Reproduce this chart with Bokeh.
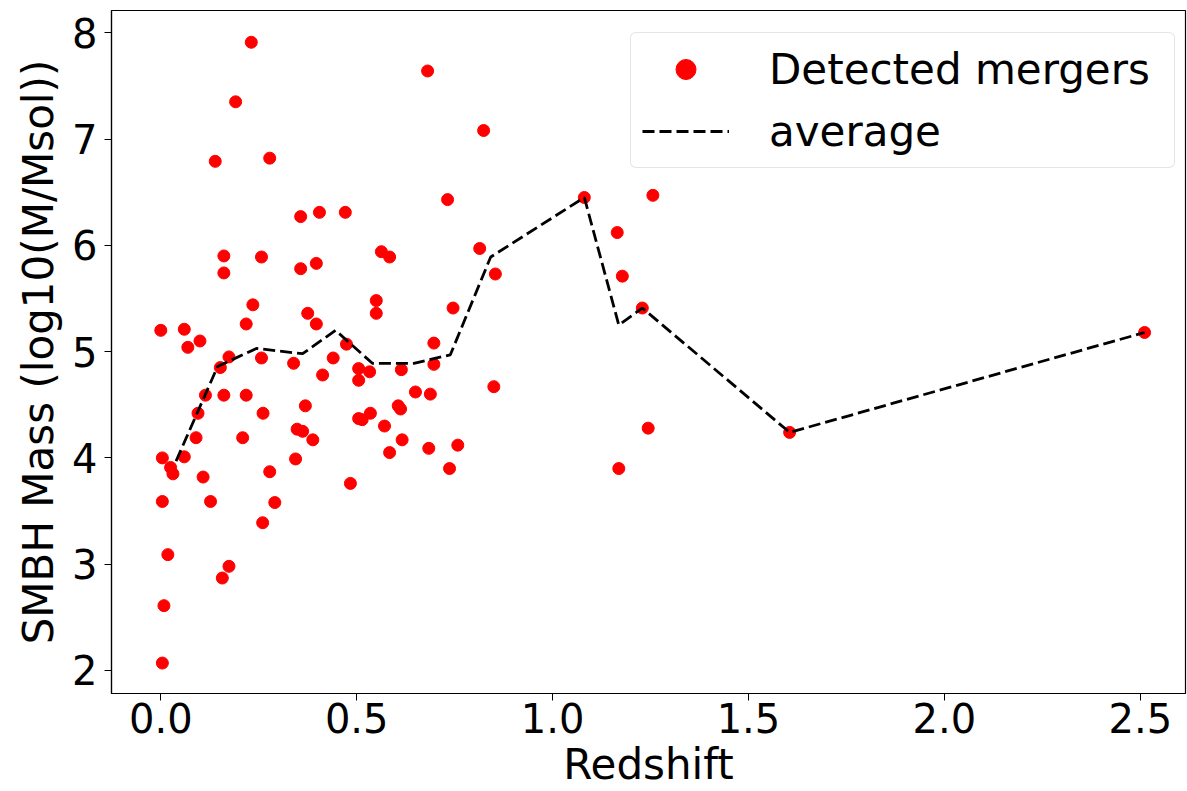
from bokeh.plotting import figure
from bokeh.models import Range1d, FixedTicker, Legend, LegendItem, ColumnDataSource
from bokeh.embed import file_html
from bokeh.resources import INLINE

# Detected mergers: redshift and SMBH mass (log10 M/Msol)
redshift = [
    0.231, 0.191, 0.139, 0.278, 0.357, 0.405, 0.471, 0.161, 0.257, 0.161,
    0.357, 0.397, 0.563, 0.584, 0.550, 0.550, 0.235, 0.218, 0.375, 0.397,
    0.000, 0.060, 0.100, 0.069, 0.474, 0.174, 0.152, 0.257, 0.339, 0.440,
    0.413, 0.505, 0.533, 0.505, 0.614, 0.114, 0.161, 0.218, 0.369, 0.095,
    0.261, 0.606, 0.612, 0.505, 0.514, 0.535, 0.348, 0.362, 0.388, 0.571,
    0.616, 0.584, 0.090, 0.209, 0.004, 0.060, 0.025, 0.031, 0.108, 0.278,
    0.344, 0.484, 0.004, 0.127, 0.291, 0.260, 0.018, 0.174, 0.157, 0.008,
    0.004, 0.681, 0.824, 0.732, 1.081, 1.256, 1.165, 1.178, 1.229, 0.814,
    0.854, 0.746, 0.697, 0.697, 0.650, 0.688, 0.850, 0.684, 0.758, 0.737,
    1.244, 1.169, 1.605, 2.511,
]
mass = [
    7.91, 7.35, 6.79, 6.82, 6.27, 6.31, 6.31, 5.90, 5.89, 5.74,
    5.78, 5.83, 5.94, 5.89, 5.48, 5.36, 5.44, 5.26, 5.36, 5.26,
    5.20, 5.21, 5.10, 5.04, 5.07, 4.95, 4.85, 4.94, 4.89, 4.94,
    4.78, 4.84, 4.81, 4.73, 4.83, 4.59, 4.59, 4.59, 4.49, 4.42,
    4.42, 4.49, 4.46, 4.37, 4.36, 4.42, 4.27, 4.25, 4.17, 4.30,
    4.17, 4.05, 4.19, 4.19, 4.00, 4.01, 3.91, 3.85, 3.82, 3.87,
    3.99, 3.76, 3.59, 3.59, 3.58, 3.39, 3.09, 2.98, 2.87, 2.61,
    2.07, 7.64, 7.08, 6.43, 6.45, 6.47, 6.12, 5.71, 5.41, 5.97,
    5.73, 5.41, 5.08, 4.88, 4.62, 4.60, 4.67, 4.09, 4.12, 3.90,
    4.28, 3.90, 4.24, 5.18,
]

# Running average
avg_z = [0.039, 0.145, 0.244, 0.362, 0.446, 0.540, 0.646, 0.739, 0.842,
         1.081, 1.169, 1.229, 1.605, 2.511]
avg_mass = [3.97, 4.86, 5.03, 4.98, 5.20, 4.89, 4.89, 4.97, 5.89,
            6.45, 5.25, 5.41, 4.24, 5.18]

x_ticks = [0.0, 0.5, 1.0, 1.5, 2.0, 2.5]
y_ticks = [2, 3, 4, 5, 6, 7, 8]

FONT = "DejaVu Sans"
TICK_FS = "40px"
LABEL_FS = "42px"

p = figure(width=1187, height=791, output_backend="svg", toolbar_location=None,
           x_range=Range1d(-0.1258, 2.6154), y_range=Range1d(1.7836, 8.209),
           min_border_left=111, min_border_right=2, min_border_top=10,
           min_border_bottom=98)

p.xgrid.visible = False
p.ygrid.visible = False
p.outline_line_color = "black"
p.outline_line_width = 1.2
p.background_fill_color = "white"
p.border_fill_color = "white"

src = ColumnDataSource(dict(z=redshift, m=mass))
sc = p.scatter("z", "m", source=src, size=12, color="red", line_color="red")
ln = p.line(avg_z, avg_mass, line_color="black", line_width=2.8, line_dash="12 5")

p.xaxis.ticker = FixedTicker(ticks=x_ticks)
p.yaxis.ticker = FixedTicker(ticks=y_ticks)
p.xaxis.major_label_overrides = {t: f"{t:.1f}" for t in x_ticks}
p.yaxis.major_label_overrides = {t: f"{t}" for t in y_ticks}

for ax in (p.xaxis[0], p.yaxis[0]):
    ax.major_label_text_font = FONT
    ax.major_label_text_font_size = TICK_FS
    ax.major_label_text_color = "black"
    ax.axis_label_text_font = FONT
    ax.axis_label_text_font_size = LABEL_FS
    ax.axis_label_text_font_style = "normal"
    ax.axis_label_text_color = "black"
    ax.major_tick_out = 7
    ax.major_tick_in = 0
    ax.minor_tick_out = 0
    ax.minor_tick_in = 0
    ax.major_tick_line_color = "black"
    ax.axis_line_color = "black"
    ax.axis_line_width = 1.2

p.xaxis.axis_label = "Redshift"
p.yaxis.axis_label = "SMBH Mass (log10(M/Msol))"
p.xaxis.major_label_standoff = 2
p.xaxis.axis_label_standoff = 4
p.yaxis.major_label_standoff = 7
p.yaxis.axis_label_standoff = 6

legend = Legend(items=[LegendItem(label="Detected mergers", renderers=[sc]),
                       LegendItem(label="average", renderers=[ln])],
                location=(519, 525))
legend.label_text_font = FONT
legend.label_text_font_size = LABEL_FS
legend.label_text_color = "black"
legend.glyph_width = 87
legend.glyph_height = 50
legend.label_height = 50
legend.label_width = 394
legend.label_standoff = 40
legend.spacing = 12
legend.padding = 11
legend.margin = 0
legend.border_line_color = "#cccccc"
legend.border_line_width = 1.5
legend.background_fill_alpha = 1.0
try:
    legend.border_radius = 6
except Exception:
    pass
p.add_layout(legend, "center")

open("out.html", "w").write(file_html(p, INLINE))
